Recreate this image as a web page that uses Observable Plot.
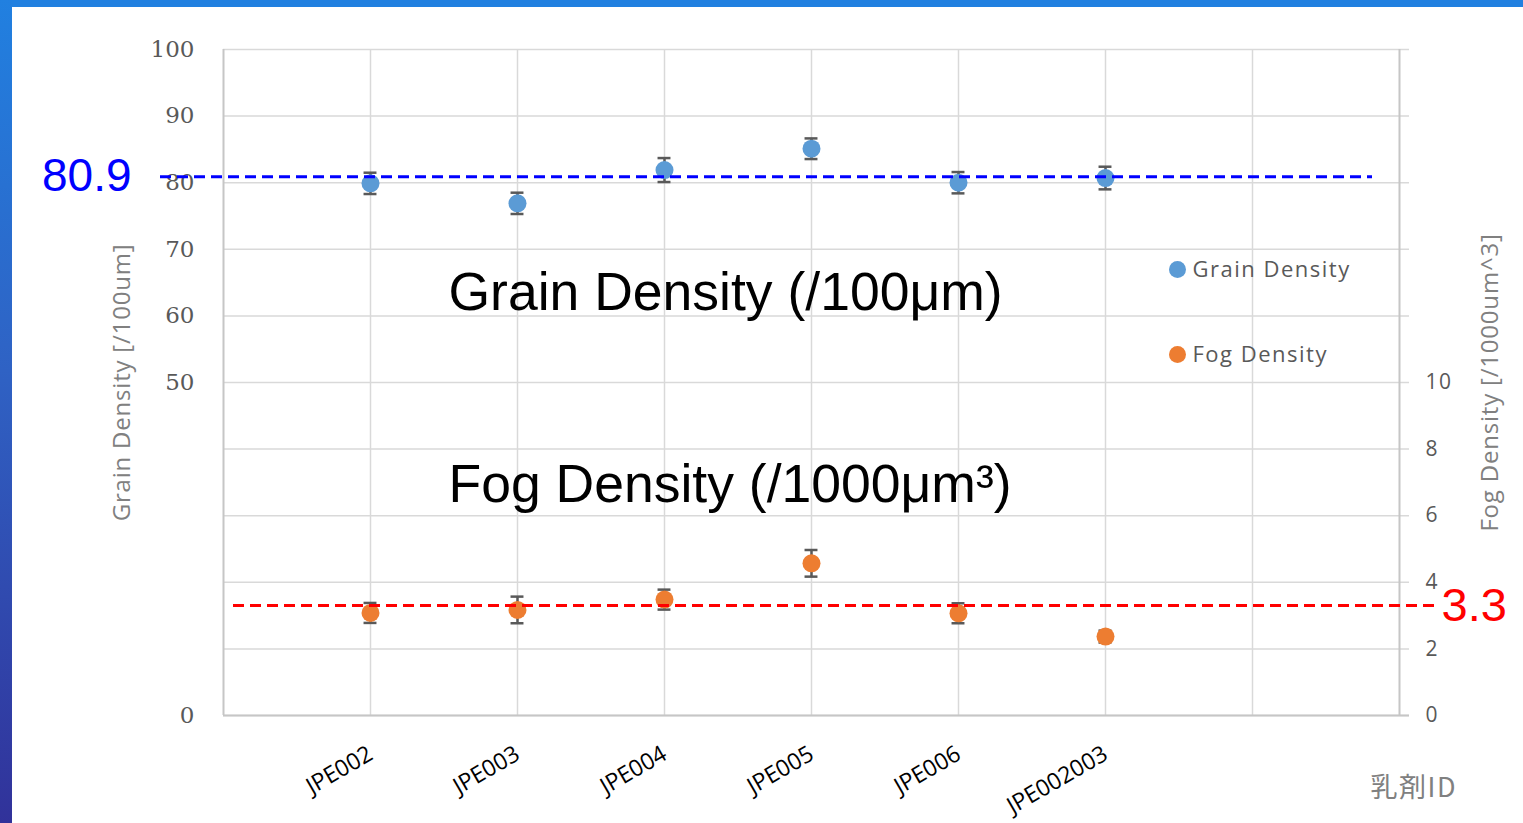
<!DOCTYPE html>
<html>
<head>
<meta charset="utf-8">
<script src="https://cdn.jsdelivr.net/npm/d3@7"></script>
<script src="https://cdn.jsdelivr.net/npm/@observablehq/plot@0.6"></script>
<style>
  html, body { margin: 0; padding: 0; background: #ffffff; width: 1523px; height: 823px; overflow: hidden; }
  #chart { position: absolute; left: 0; top: 0; }
  #topbar { position: absolute; left: 0; top: 0; width: 1523px; height: 7px; background: #2180e0; }
  #leftbar { position: absolute; left: 0; top: 0; width: 12px; height: 823px; background: linear-gradient(#2180e0, #2f62c4 45%, #31329a); }
  .spaced { letter-spacing: 0.8px; }
  .wide { letter-spacing: 1.5px; }
</style>
</head>
<body>
<div id="chart"></div>
<div id="topbar"></div>
<div id="leftbar"></div>
<script>
// ---- data ----
const categories = ["JPE002", "JPE003", "JPE004", "JPE005", "JPE006", "JPE002003"];
const grainValues = [79.9, 76.9, 81.9, 85.1, 80.0, 80.7];
const grainErrors = [1.6, 1.6, 1.8, 1.55, 1.6, 1.7];
const fogValues = [3.08, 3.17, 3.48, 4.57, 3.07, 2.37];
const fogErrors = [0.3, 0.4, 0.3, 0.4, 0.3, 0.18];
const grainMean = 80.9;
const fogMean = 3.3;
const seriesNames = ["Grain Density", "Fog Density"];
const seriesColors = ["#5b9bd5", "#ed7d31"];
const leftTicks = [0, 50, 60, 70, 80, 90, 100];
const rightTicks = [0, 2, 4, 6, 8, 10];
const gridY = [0, 10, 20, 30, 40, 50, 60, 70, 80, 90, 100];
const xDomain = [0, 8];
const xGrid = [1, 2, 3, 4, 5, 6, 7];
const leftMax = 100, rightMax = 20;
const k = leftMax / rightMax; // fog -> left-axis units

const rows = categories.map((id, i) => ({
  id, pos: i + 1,
  grain: grainValues[i], grainErr: grainErrors[i],
  fog: fogValues[i] * k, fogErr: fogErrors[i] * k
}));
const cap = 0.044;
const caps = rows.flatMap(d => [
  {pos: d.pos, y: d.grain + d.grainErr}, {pos: d.pos, y: d.grain - d.grainErr},
  {pos: d.pos, y: d.fog + d.fogErr}, {pos: d.pos, y: d.fog - d.fogErr}
]);

const grey = "#595959";
const gridColor = "#d9d9d9";
const axisColor = "#c6c6c6";

const chart = Plot.plot({
  width: 1523,
  height: 823,
  marginLeft: 223,
  marginRight: 124,
  marginTop: 49,
  marginBottom: 108,
  style: {background: "transparent", fontFamily: "'Open Sans', sans-serif", overflow: "visible"},
  x: {domain: xDomain, axis: null},
  y: {domain: [0, leftMax], axis: null},
  marks: [
    Plot.ruleY(gridY, {y: d => d, stroke: gridColor, strokeWidth: 1.5, insetRight: -10}),
    Plot.ruleX(xGrid, {x: d => d, stroke: gridColor, strokeWidth: 1.5}),
    Plot.ruleX(xDomain, {x: d => d, stroke: axisColor, strokeWidth: 2}),
    Plot.ruleY([0], {y: d => d, stroke: axisColor, strokeWidth: 2, insetRight: -10}),
    Plot.axisY({anchor: "left", ticks: leftTicks, tickSize: 0, tickPadding: 29,
      fontFamily: "'DejaVu Serif', serif", fontSize: 23, color: grey}),
    Plot.axisY({anchor: "right", ticks: rightTicks.map(d => d * k), tickFormat: d => d / k,
      tickSize: 0, tickPadding: 26, fontSize: 21, color: grey, className: "wide"}),
    // x tick labels
    Plot.text(rows, {x: "pos", text: "id", frameAnchor: "bottom", dx: 4, dy: 43, rotate: -30,
      textAnchor: "end", lineAnchor: "bottom", fontSize: 23, fill: "#000"}),
    // axis titles
    Plot.text(["Grain Density [/100um]"], {text: d => d, frameAnchor: "left", dx: -101, rotate: -90,
      textAnchor: "middle", lineAnchor: "middle", fontSize: 24, fill: "#808080", className: "spaced"}),
    Plot.text(["Fog Density [/1000um^3]"], {text: d => d, frameAnchor: "right", dx: 91, rotate: -90,
      textAnchor: "middle", lineAnchor: "middle", fontSize: 24, fill: "#808080", className: "spaced"}),
    Plot.text(["乳剤ID"], {text: d => d, frameAnchor: "bottom-right", dx: -29, dy: 73, textAnchor: "start",
      lineAnchor: "middle", fontSize: 27, fontFamily: "'Noto Sans CJK JP', sans-serif", fill: "#808080", className: "wide"}),
    // error bars
    Plot.ruleX(rows, {x: "pos", y1: d => d.grain - d.grainErr, y2: d => d.grain + d.grainErr, stroke: grey, strokeWidth: 2.5}),
    Plot.ruleX(rows, {x: "pos", y1: d => d.fog - d.fogErr, y2: d => d.fog + d.fogErr, stroke: grey, strokeWidth: 2.5}),
    Plot.ruleY(caps, {y: "y", x1: d => d.pos - cap, x2: d => d.pos + cap, stroke: grey, strokeWidth: 2.5}),
    // points
    Plot.dot(rows, {x: "pos", y: "grain", r: 9, fill: seriesColors[0]}),
    Plot.dot(rows, {x: "pos", y: "fog", r: 9, fill: seriesColors[1]}),
    // legend
    ...seriesNames.flatMap((name, i) => [
      Plot.dot([name], {frameAnchor: "top-left", dx: 954, dy: 220 + i * 85, r: 8.5, fill: seriesColors[i]}),
      Plot.text([name], {text: d => d, frameAnchor: "top-left", dx: 969, dy: 220 + i * 85, textAnchor: "start",
        lineAnchor: "middle", fontSize: 22, fill: grey, className: "wide"})
    ]),
    // annotations
    Plot.text(["Grain Density (/100μm)"], {text: d => d, frameAnchor: "top-left", dx: 225, dy: 243,
      textAnchor: "start", lineAnchor: "middle", fontSize: 53.5, fontFamily: "'Liberation Sans', Arial, sans-serif", fill: "#000"}),
    Plot.text(["Fog Density (/1000μm³)"], {text: d => d, frameAnchor: "top-left", dx: 225, dy: 435,
      textAnchor: "start", lineAnchor: "middle", fontSize: 53.5, fontFamily: "'Liberation Sans', Arial, sans-serif", fill: "#000"}),
    // mean lines
    Plot.ruleY([grainMean], {y: d => d, stroke: "#0000ff", strokeWidth: 3, strokeDasharray: "11,6", insetLeft: -63, insetRight: 27}),
    Plot.ruleY([fogMean * k], {y: d => d, stroke: "#ff0000", strokeWidth: 3, strokeDasharray: "11,6", insetLeft: 10, insetRight: -41}),
    Plot.text([grainMean], {y: d => d, text: d => d.toFixed(1), frameAnchor: "left", dx: -92, textAnchor: "end",
      lineAnchor: "middle", fontSize: 46, fontFamily: "'Liberation Sans', Arial, sans-serif", fill: "#0000ff"}),
    Plot.text([fogMean * k], {y: d => d, text: d => (d / k).toFixed(1), frameAnchor: "right", dx: 42, textAnchor: "start",
      lineAnchor: "middle", fontSize: 47, fontFamily: "'Liberation Sans', Arial, sans-serif", fill: "#ff0000"})
  ]
});
document.getElementById("chart").appendChild(chart);
</script>
</body>
</html>
